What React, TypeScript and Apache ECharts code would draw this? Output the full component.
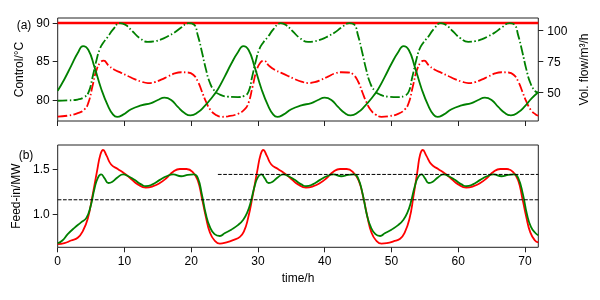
import React, { useEffect, useRef } from "react";
import * as echarts from "echarts";

// ---- tick values ----
const xTicks = [0, 10, 20, 30, 40, 50, 60, 70];
const tempTicks = [80, 85, 90];
const flowTicks = [50, 75, 100];
const feedTicks = [1.0, 1.5];

// ---- (a) control temperature, red strategy (constant) ----
const redTempT = [0, 72];
const redTempV = [90, 90];

// ---- (a) control temperature, green strategy ----
const greenTempT = [
  0, 1, 2, 3, 3.8, 4.6, 5.5, 6.5, 7.5, 8.3, 8.9, 9.8, 11, 12.5, 14, 15, 16, 17, 18, 19, 19.9, 21, 22, 23,
  24, 25, 26, 27, 27.8, 28.6, 29.5, 30.5, 31.5, 32.3, 32.9, 33.8, 35, 36.5, 38, 39, 40, 41, 42, 43, 43.9, 45, 46, 47,
  48, 49, 50, 51, 51.8, 52.6, 53.5, 54.5, 55.5, 56.3, 56.9, 57.8, 59, 60.5, 62, 63, 64, 65, 66, 67, 67.9, 69, 70, 71, 72,
];
const greenTempV = [
  81.2, 82.7, 84.4, 86.1, 87.0, 86.5, 84.3, 81.5, 79.3, 78.1, 77.8, 78.1, 78.8, 79.3, 79.6, 80.0, 80.3, 80.0, 79.1, 78.3, 78.0, 78.4, 79.2, 80.2,
  81.4, 83.0, 84.7, 86.2, 87.0, 86.5, 84.3, 81.5, 79.3, 78.1, 77.8, 78.1, 78.8, 79.3, 79.6, 80.0, 80.3, 80.0, 79.1, 78.3, 78.0, 78.4, 79.2, 80.2,
  81.4, 83.0, 84.7, 86.2, 87.0, 86.5, 84.3, 81.5, 79.3, 78.1, 77.8, 78.1, 78.8, 79.3, 79.6, 80.0, 80.3, 80.0, 79.1, 78.3, 78.0, 78.4, 79.2, 80.2, 81.0,
];

// ---- (a) volume flow, red strategy (right axis) ----
const redFlowT = [
  0, 1.5, 3, 4, 4.6, 5.2, 5.8, 6.4, 6.9, 7.6, 8.5, 9.5, 10.5, 11.5, 12.5, 13.5, 14.5, 15.5, 16.5, 17.5, 18.5, 19.5, 20.3, 21, 21.6, 22.2, 22.9, 23.6,
  24.5, 25.5, 27, 28, 28.6, 29.2, 29.8, 30.4, 30.9, 31.6, 32.5, 33.5, 34.5, 35.5, 36.5, 37.5, 38.5, 39.5, 40.5, 41.5, 42.5, 43.5, 44.3, 45, 45.6, 46.2, 46.9, 47.6,
  48.5, 49.5, 51, 52, 52.6, 53.2, 53.8, 54.4, 54.9, 55.6, 56.5, 57.5, 58.5, 59.5, 60.5, 61.5, 62.5, 63.5, 64.5, 65.5, 66.5, 67.5, 68.3, 69, 69.6, 70.2, 70.9, 71.6, 72,
];
const redFlowV = [
  30.8, 31.5, 33.5, 36.5, 42, 55, 68, 74.5, 75.8, 72, 68.5, 66, 63.5, 61, 59, 57.8, 58.5, 60.5, 63, 65.5, 66.5, 66.3, 64.5, 59, 51, 43, 36, 32.5,
  30.6, 31, 33, 36.5, 42, 55, 68, 74.5, 75.8, 72, 68.5, 66, 63.5, 61, 59, 57.8, 58.5, 60.5, 63, 65.5, 66.5, 66.3, 64.5, 59, 51, 43, 36, 32.5,
  30.6, 31, 33, 36.5, 42, 55, 68, 74.5, 75.8, 72, 68.5, 66, 63.5, 61, 59, 57.8, 58.5, 60.5, 63, 65.5, 66.5, 66.3, 64.5, 59, 51, 43, 36, 32.5, 31.5,
];

// ---- (a) volume flow, green strategy (right axis) ----
const greenFlowT = [
  0, 1.5, 3, 4, 4.6, 5.2, 5.8, 6.3, 6.8, 7.5, 8.3, 9.3, 10.2, 11.2, 12.3, 13.5, 14.5, 15.5, 16.5, 17.5, 18.5, 19.6, 20.4, 21, 21.6, 22.2, 22.8, 23.5,
  24.3, 25.5, 27, 28, 28.6, 29.1, 29.7, 30.2, 30.8, 31.5, 32.3, 33.4, 34.2, 35.2, 36.3, 37.5, 38.5, 39.5, 40.5, 41.5, 42.5, 43.7, 44.4, 45, 45.6, 46.2, 46.8, 47.5,
  48.3, 49.5, 51, 52, 52.6, 53.1, 53.7, 54.2, 54.8, 55.5, 56.3, 57.4, 58.2, 59.2, 60.3, 61.5, 62.5, 63.5, 64.5, 65.5, 66.5, 67.7, 68.4, 69, 69.6, 70.2, 70.8, 71.5, 72,
];
const greenFlowV = [
  43.5, 43.8, 44.5, 46.5, 50, 62, 76, 85, 90, 95, 101, 106, 104.5, 99.5, 94, 91, 91.5, 93, 95.5, 98.5, 102.5, 106, 105, 96, 83, 69, 58, 51.5,
  48.5, 46.8, 46.5, 47.5, 51, 62, 76, 85, 90.5, 95, 101, 106, 104.5, 99.5, 94, 91, 91.5, 93, 95.5, 98.5, 102.5, 106, 105, 96, 83, 69, 58, 51.5,
  48.5, 46.8, 46.5, 47.5, 51, 62, 76, 85, 90.5, 95, 101, 106, 104.5, 99.5, 94, 91, 91.5, 93, 95.5, 98.5, 102.5, 106, 105, 96, 83, 69, 58, 51.5, 50,
];

// ---- (b) feed-in, red strategy ----
const redFeedT = [
  0, 1, 2, 3, 3.8, 4.5, 5.2, 5.9, 6.4, 6.8, 7.3, 8, 9, 10, 11, 12, 13.2, 14.3, 15.3, 16.3, 17.3, 18.3, 19.3, 20.3, 21, 21.6, 22.2, 22.8, 23.5,
  24.3, 25.3, 26.3, 27.3, 27.9, 28.5, 29.2, 29.9, 30.4, 30.8, 31.3, 32, 33, 34, 35, 36, 37.2, 38.3, 39.3, 40.3, 41.3, 42.3, 43.3, 44.3, 45.1, 45.8, 46.4, 47, 47.7,
  48.5, 49.3, 50.3, 51.3, 52, 52.7, 53.3, 53.9, 54.3, 54.7, 55.2, 56, 57, 58, 59, 60, 61.2, 62.3, 63.3, 64.3, 65.3, 66.3, 67.3, 68.3, 69, 69.6, 70.2, 70.8, 71.5, 72,
];
const redFeedV = [
  0.67, 0.68, 0.71, 0.74, 0.82, 0.95, 1.2, 1.48, 1.66, 1.71, 1.65, 1.55, 1.5, 1.45, 1.39, 1.33, 1.295, 1.31, 1.345, 1.4, 1.47, 1.5, 1.5, 1.46, 1.37, 1.18, 0.97, 0.8, 0.71,
  0.675, 0.69, 0.715, 0.75, 0.81, 0.95, 1.2, 1.48, 1.66, 1.71, 1.65, 1.55, 1.5, 1.45, 1.39, 1.33, 1.295, 1.31, 1.345, 1.4, 1.47, 1.5, 1.5, 1.46, 1.37, 1.18, 0.97, 0.8, 0.71,
  0.675, 0.68, 0.7, 0.73, 0.8, 0.95, 1.2, 1.48, 1.66, 1.71, 1.65, 1.55, 1.5, 1.45, 1.39, 1.33, 1.295, 1.31, 1.345, 1.4, 1.47, 1.5, 1.5, 1.46, 1.37, 1.18, 0.97, 0.8, 0.71, 0.69,
];

// ---- (b) feed-in, green strategy ----
const greenFeedT = [
  0, 0.7, 1.5, 2.5, 3.5, 4.3, 4.9, 5.5, 6, 6.5, 7, 7.6, 8.2, 9, 9.8, 10.6, 11.5, 12.5, 13.2, 14.2, 15.3, 16.3, 17.3, 18.5, 19.5, 20.4, 21, 21.6, 22.2, 22.8, 23.5,
  24.3, 25, 26, 27, 27.8, 28.4, 28.9, 29.5, 30, 30.5, 31, 31.6, 32.2, 33, 33.8, 34.6, 35.5, 36.5, 37.2, 38.2, 39.3, 40.3, 41.3, 42.5, 43.5, 44.4, 45, 45.7, 46.3, 46.9, 47.6,
  48.3, 49, 50, 51, 51.8, 52.4, 52.9, 53.5, 54, 54.5, 55, 55.6, 56.2, 57, 57.8, 58.6, 59.5, 60.5, 61.2, 62.2, 63.3, 64.3, 65.3, 66.5, 67.5, 68.4, 69, 69.7, 70.3, 70.9, 71.6, 72,
];
const greenFeedV = [
  0.68, 0.71, 0.78, 0.85, 0.91, 0.96, 1.08, 1.28, 1.4, 1.44, 1.4, 1.345, 1.36, 1.41, 1.44, 1.42, 1.38, 1.33, 1.31, 1.33, 1.38, 1.42, 1.44, 1.42, 1.435, 1.44, 1.4, 1.22, 1.0, 0.86, 0.78,
  0.76, 0.79, 0.83, 0.88, 0.94, 1.02, 1.13, 1.31, 1.41, 1.44, 1.4, 1.345, 1.36, 1.41, 1.44, 1.42, 1.38, 1.33, 1.31, 1.33, 1.38, 1.42, 1.44, 1.42, 1.435, 1.44, 1.4, 1.22, 1.0, 0.86, 0.78,
  0.76, 0.79, 0.83, 0.88, 0.94, 1.02, 1.13, 1.31, 1.41, 1.44, 1.4, 1.345, 1.36, 1.41, 1.44, 1.42, 1.38, 1.33, 1.31, 1.33, 1.38, 1.42, 1.44, 1.42, 1.435, 1.44, 1.4, 1.22, 1.0, 0.86, 0.79, 0.77,
];

// ---- (b) reference levels ----
const lowLevelT = [0, 72];
const lowLevelV = [1.16, 1.16];
const highLevelT = [24, 72];
const highLevelV = [1.44, 1.44];

const FONT = '"Liberation Sans", Arial, Helvetica, sans-serif';
const RED = "#ff0000";
const GREEN = "#008000";
const AX = "#222222";
const DASHDOT = [9.6, 2.4, 1.5, 2.4];

const zip = (t: number[], v: number[]) => t.map((x, i) => [x, v[i]]);

export default function App() {
  const ref = useRef<HTMLDivElement>(null);
  useEffect(() => {
    if (!ref.current) return;
    const chart = echarts.init(ref.current, undefined, { renderer: "svg" });
    const tickStyle = { show: true, inside: false, length: 5, lineStyle: { color: AX, width: 1 } };
    const labelBase = { color: "#000", fontSize: 12, fontFamily: FONT };
    const nameStyle = { color: "#000", fontSize: 12, fontFamily: FONT };
    const line = (name: string, xi: number, yi: number, data: number[][], color: string, width: number, type: any, smooth = true) => ({
      name,
      type: "line",
      xAxisIndex: xi,
      yAxisIndex: yi,
      data,
      symbol: "none",
      smooth: smooth ? 0.5 : false,
      lineStyle: { color, width, type },
      emphasis: { disabled: true },
      z: 3,
    });
    chart.setOption({
      animation: false,
      textStyle: { fontFamily: FONT },
      grid: [
        { left: 57.7, top: 18, width: 480.6, height: 103, show: true, borderColor: AX, borderWidth: 1, backgroundColor: "transparent", containLabel: false },
        { left: 57.7, top: 145, width: 480.6, height: 102.3, show: true, borderColor: AX, borderWidth: 1, backgroundColor: "transparent", containLabel: false },
      ],
      xAxis: [
        {
          gridIndex: 0, type: "value", min: 0, max: 72,
          axisLine: { show: false }, splitLine: { show: false },
          axisTick: { ...tickStyle, customValues: xTicks },
          axisLabel: { show: false },
        },
        {
          gridIndex: 1, type: "value", min: 0, max: 72,
          axisLine: { show: false }, splitLine: { show: false },
          axisTick: { ...tickStyle, customValues: xTicks },
          axisLabel: { ...labelBase, margin: 8, customValues: xTicks },
          name: "time/h", nameLocation: "middle", nameGap: 25, nameTextStyle: nameStyle,
        },
      ],
      yAxis: [
        {
          gridIndex: 0, type: "value", min: 77.27, max: 90.65, position: "left",
          axisLine: { show: false }, splitLine: { show: false },
          axisTick: { ...tickStyle, customValues: tempTicks },
          axisLabel: { ...labelBase, margin: 8, customValues: tempTicks },
          name: "Control/°C", nameLocation: "middle", nameGap: 27, nameRotate: 90, nameTextStyle: nameStyle,
        },
        {
          gridIndex: 0, type: "value", min: 27.2, max: 110.2, position: "right",
          axisLine: { show: false }, splitLine: { show: false },
          axisTick: { ...tickStyle, customValues: flowTicks },
          axisLabel: { ...labelBase, margin: 9, customValues: flowTicks },
          name: "Vol. flow/m³/h", nameLocation: "middle", nameGap: 33, nameRotate: 90, nameTextStyle: nameStyle,
        },
        {
          gridIndex: 1, type: "value", min: 0.635, max: 1.765, position: "left",
          axisLine: { show: false }, splitLine: { show: false },
          axisTick: { ...tickStyle, customValues: feedTicks },
          axisLabel: { ...labelBase, margin: 8, customValues: feedTicks, formatter: (v: number) => v.toFixed(1) },
          name: "Feed-in/MW", nameLocation: "middle", nameGap: 32, nameRotate: 90, nameTextStyle: nameStyle,
        },
      ],
      graphic: [
        { type: "text", x: 24, y: 25, style: { text: "(a)", fontSize: 12, fontFamily: FONT, fill: "#000", align: "center", verticalAlign: "middle" } },
        { type: "text", x: 26, y: 155, style: { text: "(b)", fontSize: 12, fontFamily: FONT, fill: "#000", align: "center", verticalAlign: "middle" } },
      ],
      series: [
        line("redTemp", 0, 0, zip(redTempT, redTempV), RED, 2.4, "solid", false),
        line("redFlow", 0, 1, zip(redFlowT, redFlowV), RED, 1.8, DASHDOT),
        line("greenTemp", 0, 0, zip(greenTempT, greenTempV), GREEN, 1.8, "solid"),
        line("greenFlow", 0, 1, zip(greenFlowT, greenFlowV), GREEN, 1.8, DASHDOT),
        line("redFeed", 1, 2, zip(redFeedT, redFeedV), RED, 1.8, "solid"),
        line("greenFeed", 1, 2, zip(greenFeedT, greenFeedV), GREEN, 1.8, "solid"),
        line("lowLevel", 1, 2, zip(lowLevelT, lowLevelV), "#000", 1, [3.7, 1.6], false),
        line("highLevel", 1, 2, zip(highLevelT, highLevelV), "#000", 1, [3.7, 1.6], false),
      ],
    });
    return () => chart.dispose();
  }, []);
  return <div ref={ref} style={{ position: "fixed", left: 0, top: 0, width: 600, height: 300 }} />;
}
